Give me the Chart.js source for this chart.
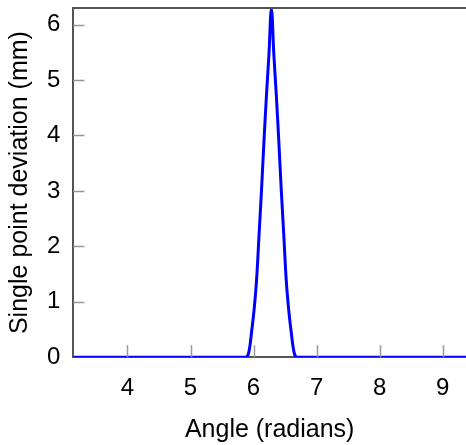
<!DOCTYPE html>
<html>
<head>
<meta charset="utf-8">
<script src="https://cdn.jsdelivr.net/npm/chart.js@4.4.1/dist/chart.umd.min.js"></script>
<style>
  html, body { margin: 0; padding: 0; background: #fff; }
  #wrap { width: 466px; height: 445px; }
</style>
</head>
<body>
<div id="wrap"><canvas id="chart"></canvas></div>
<script>
// angle (radians) and single point deviation (mm)
const angles = [
  3.1416, 5.80, 5.890, 5.930, 5.969, 6.008, 6.047, 6.087, 6.126, 6.165, 6.204, 6.244,
  6.2832,
  6.322, 6.362, 6.401, 6.440, 6.480, 6.519, 6.558, 6.597, 6.637, 6.676, 6.76, 9.4248
];
const deviation = [
  0, 0, 0, 0.12, 0.46, 0.85, 1.38, 2.20, 3.01, 3.89, 4.71, 5.46,
  6.28,
  5.46, 4.71, 3.89, 3.01, 2.20, 1.38, 0.85, 0.46, 0.12, 0, 0, 0
];
const xTicks = [4, 5, 6, 7, 8, 9];
const yTicks = [0, 1, 2, 3, 4, 5, 6];

const points = angles.map((a, i) => ({ x: a, y: deviation[i] }));
const tickFont = { family: "Liberation Sans, Arial, sans-serif", size: 24 };
const titleFont = { family: "Liberation Sans, Arial, sans-serif", size: 25 };

// inward tick marks and the top frame line
const frame = {
  id: "frame",
  afterDraw(chart) {
    const { ctx, chartArea, scales } = chart;
    ctx.save();
    ctx.strokeStyle = "#999";
    ctx.lineWidth = 1.5;
    ctx.beginPath();
    xTicks.forEach((t) => {
      const px = Math.round(scales.x.getPixelForValue(t)) + 0.5;
      ctx.moveTo(px, chartArea.bottom);
      ctx.lineTo(px, chartArea.bottom - 12);
    });
    yTicks.forEach((t) => {
      if (t === 0) return;
      const py = Math.round(scales.y.getPixelForValue(t)) + 0.5;
      ctx.moveTo(chartArea.left, py);
      ctx.lineTo(chartArea.left + 11, py);
    });
    ctx.stroke();
    ctx.strokeStyle = "#555";
    ctx.lineWidth = 2;
    ctx.beginPath();
    ctx.moveTo(chartArea.left, chartArea.top);
    ctx.lineTo(chartArea.right, chartArea.top);
    ctx.stroke();
    ctx.restore();
  },
};

new Chart(document.getElementById("chart"), {
  type: "line",
  data: {
    datasets: [
      {
        data: points,
        borderColor: "#0000ff",
        borderWidth: 3,
        pointRadius: 0,
        fill: false,
        tension: 0.4,
      },
    ],
  },
  options: {
    responsive: true,
    maintainAspectRatio: false,
    animation: false,
    layout: { padding: { left: 0, right: 0, top: 8, bottom: 0 } },
    plugins: {
      legend: { display: false },
      tooltip: { enabled: false },
    },
    scales: {
      x: {
        type: "linear",
        min: 3.1416,
        max: 9.37,
        grid: { display: false },
        border: { display: true, color: "#555", width: 2 },
        afterBuildTicks: (axis) => {
          axis.ticks = xTicks.map((v) => ({ value: v }));
        },
        afterFit: (axis) => {
          axis.paddingLeft = 0;
          axis.paddingRight = 0;
        },
        ticks: { color: "#000", padding: 9, font: tickFont },
        title: {
          display: true,
          text: "Angle (radians)",
          color: "#000",
          padding: { top: 3, bottom: 0 },
          font: titleFont,
        },
      },
      y: {
        type: "linear",
        min: 0,
        max: 6.3,
        grid: { display: false },
        border: { display: true, color: "#555", width: 2 },
        afterBuildTicks: (axis) => {
          axis.ticks = yTicks.map((v) => ({ value: v }));
        },
        afterFit: (axis) => {
          axis.paddingTop = 0;
          axis.paddingBottom = 0;
        },
        ticks: { color: "#000", padding: 5, font: tickFont },
        title: {
          display: true,
          text: "Single point deviation (mm)",
          color: "#000",
          padding: { top: 5, bottom: 7 },
          font: titleFont,
        },
      },
    },
  },
  plugins: [frame],
});
</script>
</body>
</html>
